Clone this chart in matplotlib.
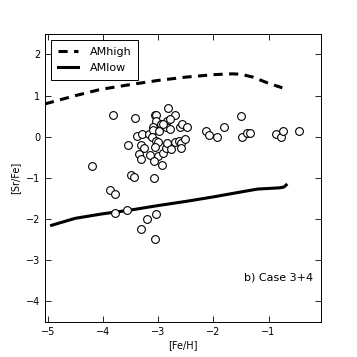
import matplotlib
matplotlib.use("Agg")
import matplotlib.pyplot as plt

# model curves
amhigh_feh = [-5.05, -4.5, -4.05, -3.5, -3.0, -2.5, -2.0, -1.65, -1.5, -1.28, -1.0, -0.75]
amhigh_srfe = [0.80, 1.00, 1.15, 1.27, 1.37, 1.45, 1.51, 1.53, 1.52, 1.45, 1.30, 1.19]
amlow_feh = [-4.93, -4.5, -4.0, -3.5, -3.0, -2.5, -2.0, -1.5, -1.2, -0.8, -0.72, -0.68]
amlow_srfe = [-2.15, -1.98, -1.87, -1.78, -1.67, -1.57, -1.46, -1.34, -1.27, -1.24, -1.22, -1.17]

# observed stars
obs_feh = [-3.81, -3.42, -4.19, -3.55, -3.38, -3.30, -3.17, -3.31, -3.26, -3.34,
           -3.31, -3.15, -3.06, -3.03, -3.04, -2.95, -2.84, -3.09, -3.09, -3.12,
           -3.04, -3.01, -3.05, -2.98, -2.82, -2.70, -2.79, -2.85, -2.78, -2.91,
           -3.00, -2.93, -3.07, -2.91, -2.86, -2.84, -2.76, -2.70, -2.62, -2.58,
           -2.58, -2.51, -2.61, -2.56, -2.48, -3.50, -3.43, -3.08, -3.87, -3.78,
           -3.78, -3.57, -3.20, -3.04, -3.31, -3.06, -2.14, -2.08, -1.93, -1.81,
           -1.49, -1.48, -1.39, -1.34, -0.87, -0.78, -0.73, -0.44]
obs_srfe = [0.54, 0.45, -0.71, -0.20, 0.01, 0.08, 0.08, -0.20, -0.26, -0.41,
            -0.53, -0.45, 0.52, 0.54, 0.38, 0.30, 0.39, 0.23, 0.16, -0.01,
            -0.09, -0.13, -0.24, 0.13, 0.70, 0.54, 0.43, 0.23, 0.18, 0.30,
            -0.47, -0.69, -0.59, -0.39, -0.26, -0.16, -0.29, -0.13, -0.10, -0.14,
            -0.26, -0.05, 0.24, 0.30, 0.25, -0.94, -0.98, -1.00, -1.30, -1.39,
            -1.84, -1.79, -1.99, -1.88, -2.24, -2.48, 0.14, 0.05, 0.00, 0.25,
            0.50, 0.00, 0.10, 0.10, 0.06, 0.00, 0.15, 0.15]

fig = plt.figure(figsize=(3.57, 3.57), dpi=100)
ax = fig.add_axes([0.126, 0.098, 0.773, 0.807])

ax.plot(amhigh_feh, amhigh_srfe, color="black", lw=2.2, dashes=(3, 2.1), label="AMhigh")
ax.plot(amlow_feh, amlow_srfe, color="black", lw=2.2, label="AMlow")
ax.plot(obs_feh, obs_srfe, "o", ms=5.6, mfc="white", mec="black", mew=0.8, zorder=3)

ax.set_xlim(-5.05, -0.05)
ax.set_ylim(-4.5, 2.5)
ax.set_xticks([-5, -4, -3, -2, -1])
ax.set_yticks([-4, -3, -2, -1, 0, 1, 2])
ax.tick_params(direction="in", top=True, right=True, length=4, width=0.6, labelsize=7)
for s in ax.spines.values():
    s.set_linewidth(0.7)

ax.set_xlabel("[Fe/H]", fontsize=7, labelpad=2)
ax.set_ylabel("[Sr/Fe]", fontsize=7, labelpad=4)

ax.text(-0.2, -3.41, "b) Case 3+4", fontsize=8, ha="right", va="center")

leg = ax.legend(loc="upper left", fontsize=8, handlelength=1.8, fancybox=False,
                framealpha=1, borderaxespad=0.55, borderpad=0.6, labelspacing=0.6,
                handletextpad=1.1)
leg.get_frame().set_edgecolor("black")
leg.get_frame().set_linewidth(0.7)

fig.savefig("out.png", dpi=100)
